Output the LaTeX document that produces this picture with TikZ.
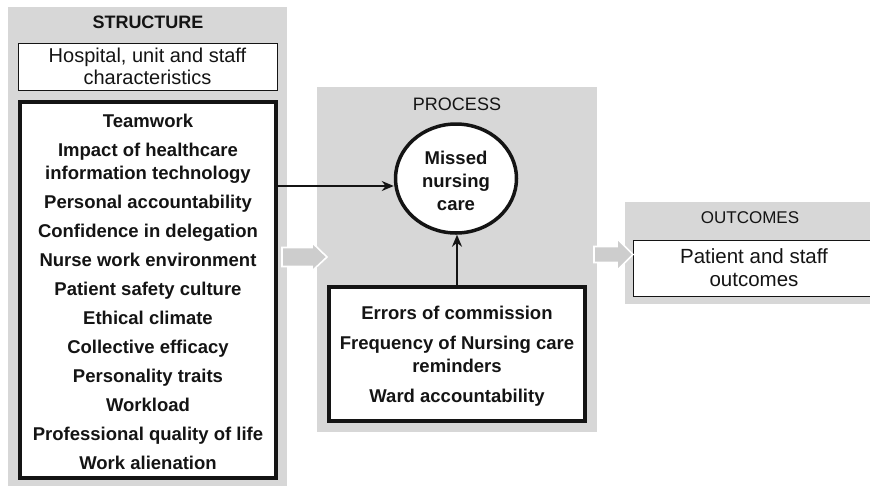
\documentclass[tikz,border=0pt]{standalone}
\usepackage{fontspec}
\setmainfont{Liberation Sans}
\usetikzlibrary{arrows.meta,shapes.geometric}
\definecolor{panelgray}{RGB}{215,215,215}
\definecolor{arrowgray}{RGB}{205,205,205}
\definecolor{ink}{RGB}{20,20,20}
\tikzset{
  panel/.style={rectangle, fill=panelgray, draw=none, inner sep=0pt},
  title/.style={text=ink, font=\fontsize{18}{20}\selectfont, inner sep=0pt},
  whitebox/.style={rectangle, fill=white, draw=ink, line width=1pt, inner sep=0pt, align=center, text=ink, font=\fontsize{20}{22.5}\selectfont},
  thickbox/.style={rectangle, fill=white, draw=ink, line width=4.5pt, inner sep=0pt},
  itemtext/.style={align=center, text=ink, inner sep=0pt, font=\bfseries\fontsize{18.5}{23}\selectfont},
  conn/.style={draw=ink, line width=2.6pt, -{Stealth[length=12pt,width=10pt]}},
  blockarrow/.style={fill=arrowgray, draw=white, line width=1.6pt, line join=miter}
}
\begin{document}
\begin{tikzpicture}[x=1pt,y=-1pt]
\useasboundingbox (0,0) rectangle (870,488);
\clip (0,0) rectangle (870,488);
\fill[white] (0,0) rectangle (870,488);

% panels
\node[panel, minimum width=279, minimum height=479] (structure) at (147.5,246.5) {};
\node[panel, minimum width=280, minimum height=345] (process) at (457,259.5) {};
\node[panel, minimum width=250, minimum height=102] (outcomes) at (750,253) {};

% titles
\node[title, font=\bfseries\fontsize{18}{20}\selectfont] (tstruct) at (148,22) {STRUCTURE};
\node[title] (tproc) at (457,104) {PROCESS};
\node[title, font=\fontsize{17}{20}\selectfont] (tout) at (750,218) {OUTCOMES};

% structure boxes
\node[whitebox, minimum width=259, minimum height=47] (hosp) at (147.5,66.5) {Hospital, unit and staff\\characteristics};
\node[thickbox, minimum width=256, minimum height=376] (factors) at (148,290) {};
\node[itemtext] (factorstext) at (148,291.5) {Teamwork\\[6pt]
Impact of healthcare\\information technology\\[6pt]
Personal accountability\\[6pt]
Confidence in delegation\\[6pt]
Nurse work environment\\[6pt]
Patient safety culture\\[6pt]
Ethical climate\\[6pt]
Collective efficacy\\[6pt]
Personality traits\\[6pt]
Workload\\[6pt]
Professional quality of life\\[6pt]
Work alienation};

% process
\node[ellipse, fill=white, draw=ink, line width=3.5pt, minimum width=121, minimum height=109, inner sep=0pt] (missed) at (456,178.5) {};
\node[itemtext] (missedtext) at (456,181) {Missed\\nursing\\care};
\node[thickbox, minimum width=256, minimum height=134] (procfactors) at (457,354) {};
\node[itemtext] (procftext) at (457,356) {Errors of commission\\[7pt]
Frequency of Nursing care\\reminders\\[7pt]
Ward accountability};

% outcomes
\node[whitebox, minimum width=250, minimum height=56, anchor=west] (outbox) at (633,268) {};
\node[align=center, text=ink, inner sep=0pt, font=\fontsize{20.5}{23}\selectfont] (outtext) at (754,268) {Patient and staff\\outcomes};

% connectors
\coordinate (hfrom) at (factors.east |- 0,186);
\draw[conn] (hfrom) -- (missed.west |- hfrom);
\draw[conn] (procfactors.north -| 457,0) -- (missed.south -| 457,0);

% block arrows
\coordinate (ba1) at (282,257);
\draw[blockarrow] (ba1) ++(0,-9.5) -- ++(30,0) -- ++(0,-5) -- (327,257) -- (312,271) -- ++(0,-4.5) -- ++(-30,0) -- cycle;
\coordinate (ba2) at (594,254.5);
\draw[blockarrow] (ba2) ++(0,-8) -- ++(23,0) -- ++(0,-8) -- (633,254.5) -- (617,270.5) -- ++(0,-8) -- ++(-23,0) -- cycle;
\end{tikzpicture}
\end{document}
